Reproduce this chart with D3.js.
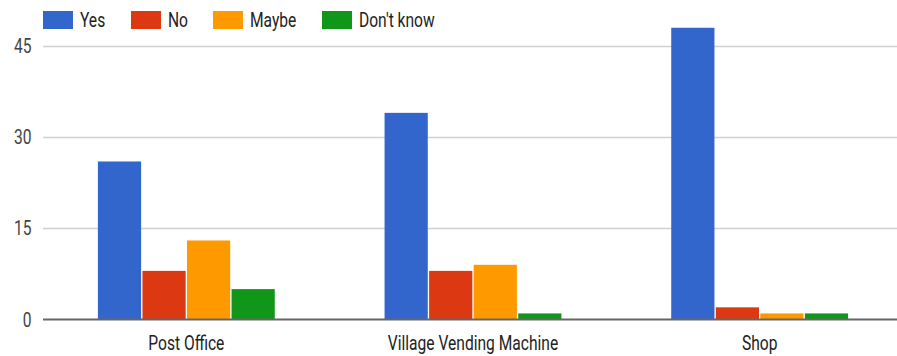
<!DOCTYPE html>
<html>
<head>
<meta charset="utf-8">
<script src="https://cdn.jsdelivr.net/npm/d3@7"></script>
<style>
  html, body { margin: 0; padding: 0; background: #fff; }
  svg { display: block; font-family: Roboto, "Liberation Sans", sans-serif; }
</style>
</head>
<body>
<svg id="chart" width="897" height="356"></svg>
<script>
// Survey answers per location
const categories = ["Post Office", "Village Vending Machine", "Shop"];
const seriesNames = ["Yes", "No", "Maybe", "Don't know"];
const yesValues = [26, 34, 48];
const noValues = [8, 8, 2];
const maybeValues = [13, 9, 1];
const dontKnowValues = [5, 1, 1];
const yTicks = [0, 15, 30, 45];
const colors = ["#3366cc", "#dc3912", "#ff9900", "#109618"];

const seriesValues = [yesValues, noValues, maybeValues, dontKnowValues];

const svg = d3.select("#chart");
const W = 897;
const plot = { left: 43, right: 903, top: 46, bottom: 319.5 };
const squeeze = 0.8;   // condensed text
const fontSize = 19.5;

const y = d3.scaleLinear().domain([0, 45]).range([plot.bottom, plot.top]);
const x0 = d3.scaleBand().domain(categories).range([plot.left, plot.right])
  .paddingInner(0.383).paddingOuter(0.1915);
const x1 = d3.scaleBand().domain(seriesNames).range([0, x0.bandwidth()])
  .paddingInner(0.03);

// gridlines
svg.append("g").selectAll("line").data(yTicks.filter(d => d !== 0)).join("line")
  .attr("x1", plot.left).attr("x2", W)
  .attr("y1", d => Math.round(y(d)) + 0.5).attr("y2", d => Math.round(y(d)) + 0.5)
  .attr("stroke", "#d0d0d0").attr("stroke-width", 1.5);

// y tick labels
svg.append("g").selectAll("text").data(yTicks).join("text")
  .attr("transform", d => `translate(31.5,${y(d) + 7}) scale(${squeeze},1)`)
  .attr("text-anchor", "end")
  .attr("font-size", fontSize).attr("fill", "#444")
  .text(d => d);

// bars
const rows = categories.map((c, i) => ({ cat: c, vals: seriesNames.map((s, j) => ({ s, v: seriesValues[j][i], j })) }));
const groups = svg.append("g").selectAll("g").data(rows).join("g")
  .attr("transform", d => `translate(${x0(d.cat)},0)`);
groups.selectAll("rect").data(d => d.vals).join("rect")
  .attr("x", d => x1(d.s))
  .attr("width", x1.bandwidth())
  .attr("y", d => y(d.v))
  .attr("height", d => y(0) - y(d.v))
  .attr("fill", d => colors[d.j]);

// baseline
svg.append("line")
  .attr("x1", plot.left).attr("x2", W)
  .attr("y1", y(0)).attr("y2", y(0))
  .attr("stroke", "#666").attr("stroke-width", 2);

// x category labels
svg.append("g").selectAll("text").data(categories).join("text")
  .attr("transform", d => `translate(${x0(d) + x0.bandwidth() / 2},349.5) scale(${squeeze},1)`)
  .attr("text-anchor", "middle")
  .attr("font-size", fontSize).attr("fill", "#222")
  .text(d => d);

// legend
const legendX = [43, 131, 213, 322];
const legend = svg.append("g").selectAll("g").data(seriesNames).join("g")
  .attr("transform", (d, i) => `translate(${legendX[i]},0)`);
legend.append("rect")
  .attr("x", 0).attr("y", 11).attr("width", 30).attr("height", 18)
  .attr("fill", (d, i) => colors[i]);
legend.append("text")
  .attr("transform", `translate(37,27) scale(${squeeze},1)`)
  .attr("font-size", fontSize).attr("fill", "#222")
  .text(d => d);
</script>
</body>
</html>
